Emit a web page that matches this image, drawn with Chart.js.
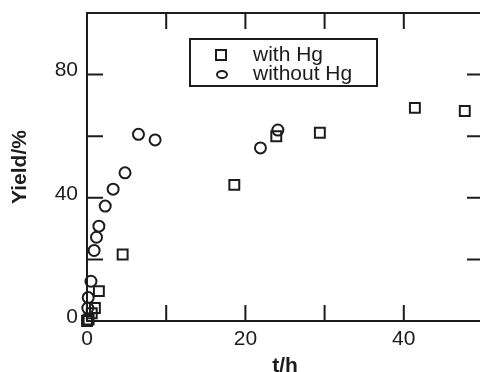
<!DOCTYPE html>
<html><head><meta charset="utf-8">
<style>html,body{margin:0;padding:0;overflow:hidden;background:#fff;width:480px;height:372px}
#wrap{position:relative;width:483px;height:372px}</style>
<script src="https://cdn.jsdelivr.net/npm/chart.js@4/dist/chart.umd.min.js"></script>
</head><body><div id="wrap"><canvas id="c" width="483" height="372"></canvas></div>
<script>
// ---- data ----
const seriesNames = ['with Hg', 'without Hg'];
const withHgT      = [0, 0.2, 0.6, 1.0, 1.5, 4.5, 18.6, 23.9, 29.4, 41.4, 47.7];
const withHgYield  = [0, 0.5, 2.5, 4.2, 9.7, 21.6, 44.2, 60.0, 61.1, 69.2, 68.2];
const withoutHgT     = [0.1, 0.15, 0.5, 0.9, 1.2, 1.5, 2.3, 3.3, 4.8, 6.5, 8.6, 21.9, 24.1];
const withoutHgYield = [4.2, 7.6, 12.9, 22.9, 27.2, 30.8, 37.3, 42.8, 48.1, 60.6, 58.8, 56.2, 62.0];
const xTickLabels = [0, 20, 40];
const yTickLabels = [0, 40, 80];
const xTitle = 't/h';
const yTitle = 'Yield/%';

const ink = '#1c1c1c';
const FAM = '"Liberation Sans", Arial, Helvetica, sans-serif';

const toPts = (xs, ys) => xs.map((v, i) => ({x: v, y: ys[i]}));
const noPad = s => { s.paddingLeft = 0; s.paddingRight = 0; s.paddingTop = 0; s.paddingBottom = 0; };

const framePlugin = {
  id: 'frame',
  beforeDatasetsDraw(chart) {
    const {ctx, chartArea: a, scales: {x, y}} = chart;
    ctx.save();
    ctx.strokeStyle = ink; ctx.lineWidth = 2;
    ctx.strokeRect(a.left, a.top, a.right - a.left, a.bottom - a.top);
    ctx.beginPath();
    x.ticks.forEach(t => {
      const p = x.getPixelForValue(t.value);
      ctx.moveTo(p, a.bottom); ctx.lineTo(p, a.bottom - 16);
      ctx.moveTo(p, a.top); ctx.lineTo(p, a.top + 16);
    });
    y.ticks.forEach(t => {
      const p = y.getPixelForValue(t.value);
      ctx.moveTo(a.left, p); ctx.lineTo(a.left + 16, p);
      ctx.moveTo(a.right, p); ctx.lineTo(a.right - 16, p);
    });
    ctx.stroke();
    ctx.restore();
  }
};

const legendBoxPlugin = {
  id: 'legendBox',
  afterDraw(chart) {
    const {ctx, chartArea: a} = chart;
    const bx = a.left + 103, by = a.top + 26, bw = 187, bh = 47;
    ctx.save();
    ctx.strokeStyle = ink; ctx.lineWidth = 2;
    ctx.strokeRect(bx, by, bw, bh);
    ctx.strokeRect(bx + 26, by + 11, 10, 10);
    ctx.beginPath();
    ctx.ellipse(bx + 32, by + 35.5, 5, 3.6, 0, 0, Math.PI * 2);
    ctx.stroke();
    ctx.fillStyle = ink;
    ctx.font = '21px ' + FAM;
    ctx.textBaseline = 'alphabetic';
    ctx.textAlign = 'left';
    const names = chart.data.datasets.map(d => d.label);
    ctx.fillText(names[0], bx + 63, by + 22);
    ctx.fillText(names[1], bx + 63, by + 41);
    ctx.restore();
  }
};

new Chart(document.getElementById('c'), {
  type: 'scatter',
  data: {
    datasets: [
      {label: seriesNames[0], data: toPts(withHgT, withHgYield), pointStyle: 'rect', pointRadius: 7,
       pointBorderColor: ink, pointBackgroundColor: 'rgba(0,0,0,0)', pointBorderWidth: 2, showLine: false, clip: false},
      {label: seriesNames[1], data: toPts(withoutHgT, withoutHgYield), pointStyle: 'circle', pointRadius: 5.5,
       pointBorderColor: ink, pointBackgroundColor: 'rgba(0,0,0,0)', pointBorderWidth: 2, showLine: false, clip: false}
    ]
  },
  options: {
    responsive: false,
    animation: false,
    layout: {autoPadding: false, padding: {top: 13, right: 0, bottom: 0, left: 0}},
    plugins: {legend: {display: false}, tooltip: {enabled: false}},
    scales: {
      x: {
        type: 'linear', min: 0, max: 50,
        grid: {display: false, drawTicks: false}, border: {display: false},
        ticks: {stepSize: 10, autoSkip: false, maxRotation: 0, padding: 6, color: ink,
                font: {family: FAM, size: 21},
                callback: v => xTickLabels.includes(v) ? String(v) : ''},
        title: {display: true, text: xTitle, color: ink, padding: {top: 0, bottom: 0},
                font: {family: FAM, size: 21, weight: 'bold', lineHeight: 0.55}},
        afterFit: s => { s.height = 51; noPad(s); }
      },
      y: {
        type: 'linear', min: 0, max: 100,
        grid: {display: false, drawTicks: false}, border: {display: false},
        ticks: {stepSize: 20, autoSkip: false, padding: 9, labelOffset: -4, color: ink,
                font: {family: FAM, size: 21},
                callback: v => yTickLabels.includes(v) ? String(v) : ''},
        title: {display: true, text: yTitle, color: ink, padding: {top: 8, bottom: 0},
                font: {family: FAM, size: 21, weight: 'bold'}},
        afterFit: s => { s.width = 87; noPad(s); }
      }
    }
  },
  plugins: [framePlugin, legendBoxPlugin]
});
</script>
</body></html>
